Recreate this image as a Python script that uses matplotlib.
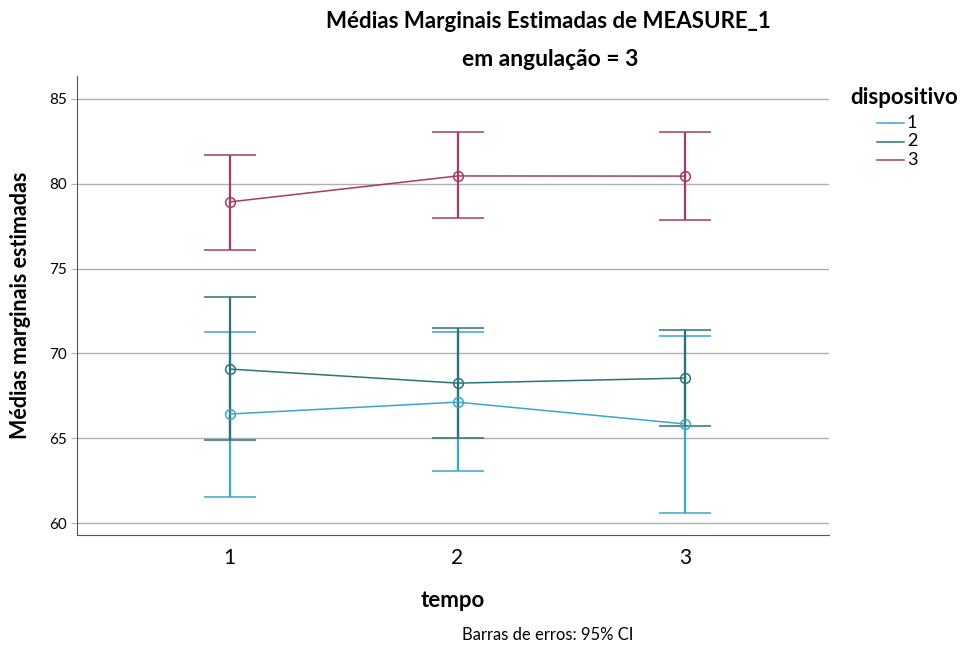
import matplotlib
matplotlib.use("Agg")
import matplotlib.pyplot as plt
from matplotlib.lines import Line2D
import numpy as np

plt.rcParams['font.family'] = ['Lato', 'DejaVu Sans']

# estimated marginal means, with 95% CI bounds
tempo = [1, 2, 3]
dispositivos = ['1', '2', '3']
medias = {
    '1': [66.43, 67.13, 65.84],
    '2': [69.08, 68.25, 68.55],
    '3': [78.93, 80.46, 80.45],
}
ic_inf = {
    '1': [61.53, 63.07, 60.60],
    '2': [64.90, 65.00, 65.70],
    '3': [76.10, 77.98, 77.88],
}
ic_sup = {
    '1': [71.26, 71.26, 71.03],
    '2': [73.33, 71.50, 71.38],
    '3': [81.70, 83.05, 83.05],
}
cores = {'1': '#3aa6cc', '2': '#2a7478', '3': '#a83a64'}

fig = plt.figure(figsize=(9.66, 6.47), dpi=100)
ax = fig.add_axes([77/966, 1 - 535/647, (829-77)/966, (535-76)/647])

for d in dispositivos:
    m = np.array(medias[d])
    lo = m - np.array(ic_inf[d])
    hi = np.array(ic_sup[d]) - m
    ax.errorbar(tempo, m, yerr=[lo, hi], color=cores[d], lw=1.1,
                elinewidth=1.6, capsize=19, capthick=1.6,
                marker='o', markersize=7, markerfacecolor='none',
                markeredgewidth=1.1, zorder=3)

ax.set_xlim(0.33, 3.63)
ax.set_ylim(59.3, 86.35)
ax.set_yticks([60, 65, 70, 75, 80, 85])
ax.set_xticks(tempo)
ax.yaxis.grid(True, color='#b0b0b0', lw=1)
ax.set_axisbelow(True)
for s in ['top', 'right']:
    ax.spines[s].set_visible(False)
for s in ['left', 'bottom']:
    ax.spines[s].set_color('#555555')
ax.tick_params(axis='y', labelsize=11, length=4, color='#b0b0b0', pad=3)
ax.tick_params(axis='x', labelsize=15, length=0, pad=9)

ax.set_xlabel('tempo', fontsize=16, fontweight='bold', labelpad=16)
ax.set_ylabel('Médias marginais estimadas', fontsize=15.5, fontweight='bold', labelpad=13)

fig.text(548/966, 1 - 22/647, 'Médias Marginais Estimadas de MEASURE_1',
         ha='center', va='center', fontsize=16, fontweight='bold')
fig.text(550/966, 1 - 60/647, 'em angulação = 3',
         ha='center', va='center', fontsize=16.5, fontweight='bold')
fig.text(548/966, 1 - 635/647, 'Barras de erros: 95% CI',
         ha='center', va='center', fontsize=12)

# legend drawn at the right, like the SPSS layout
fig.text(850/966, 1 - 97/647, 'dispositivo', ha='left', va='center',
         fontsize=16, fontweight='bold')
for i, d in enumerate(dispositivos):
    yy = 1 - (123 + 18.5 * i) / 647
    fig.add_artist(Line2D([877/966, 904/966], [yy, yy], color=cores[d], lw=1.1))
    fig.text(907/966, yy, d, ha='left', va='center', fontsize=13)

fig.savefig('out.png', dpi=100)
